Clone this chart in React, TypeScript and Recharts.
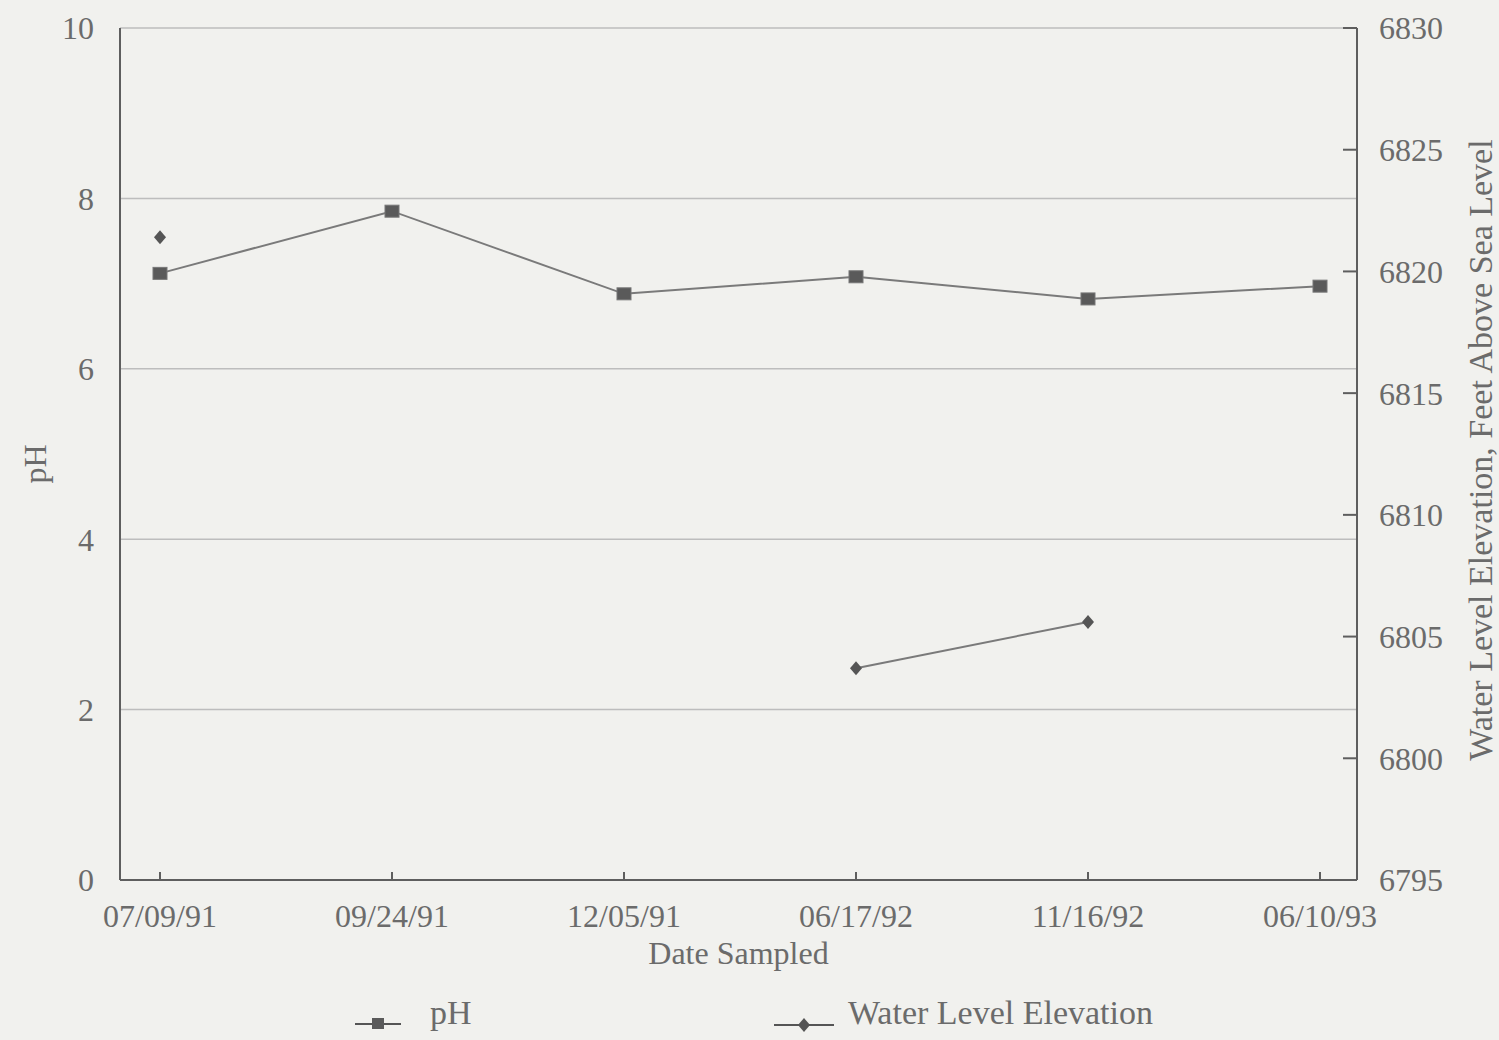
import React from 'react';
import { LineChart, Line, XAxis, YAxis, CartesianGrid, Legend } from 'recharts';

const dates = ['07/09/91', '09/24/91', '12/05/91', '06/17/92', '11/16/92', '06/10/93'];
const phValues = [7.12, 7.85, 6.88, 7.08, 6.82, 6.97];
const waterLevel: (number | null)[] = [6821.4, null, null, 6803.7, 6805.6, null];
const phTicks = [0, 2, 4, 6, 8, 10];
const elevTicks = [6795, 6800, 6805, 6810, 6815, 6820, 6825, 6830];

const data = dates.map((d, i) => ({ date: d, ph: phValues[i], water: waterLevel[i] }));

const TEXT = '#6b6b6b';
const FONT = '"Liberation Serif", "DejaVu Serif", serif';

const SquareDot = (props: any) => {
  const { cx, cy } = props;
  if (cx == null || cy == null) return null;
  return <rect x={cx - 7} y={cy - 6} width={14} height={12} fill="#5a5a5a" stroke="#777" strokeWidth={1} />;
};

const DiamondDot = (props: any) => {
  const { cx, cy, value } = props;
  if (cx == null || cy == null || value == null) return null;
  return <path d={`M${cx},${cy - 7}L${cx + 6},${cy}L${cx},${cy + 7}L${cx - 6},${cy}Z`} fill="#555" />;
};

const LeftTitle = (props: any) => {
  const { viewBox } = props;
  const x = 35;
  const y = viewBox.y + viewBox.height / 2 + 10;
  return (
    <text x={x} y={y} transform={`rotate(-90 ${x} ${y})`} textAnchor="middle" dominantBaseline="central"
      fill={TEXT} fontSize={32} fontFamily={FONT}>pH</text>
  );
};

const RightTitle = (props: any) => {
  const { viewBox } = props;
  const x = 1480;
  const y = viewBox.y + viewBox.height / 2 - 4;
  return (
    <text x={x} y={y} transform={`rotate(-90 ${x} ${y})`} textAnchor="middle" dominantBaseline="central"
      fill={TEXT} fontSize={34} fontFamily={FONT}>Water Level Elevation, Feet Above Sea Level</text>
  );
};

const LegendContent = () => (
  <div style={{ position: 'relative', width: 1499, height: 70, fontFamily: FONT, color: TEXT, fontSize: 34 }}>
    <svg style={{ position: 'absolute', left: 355, top: 44 }} width={48} height={16}>
      <line x1={0} y1={10} x2={46} y2={10} stroke="#555" strokeWidth={2} />
      <rect x={17} y={4} width={12} height={11} fill="#5a5a5a" />
    </svg>
    <span style={{ position: 'absolute', left: 430, top: 24 }}>pH</span>
    <svg style={{ position: 'absolute', left: 774, top: 44 }} width={62} height={18}>
      <line x1={0} y1={11} x2={60} y2={11} stroke="#555" strokeWidth={2} />
      <path d="M30,4L36,11L30,18L24,11Z" fill="#555" />
    </svg>
    <span style={{ position: 'absolute', left: 848, top: 24 }}>Water Level Elevation</span>
  </div>
);

export default function App() {
  return (
    <div style={{ position: 'absolute', left: 0, top: 0, width: 1499, height: 1040, background: '#f1f1ee' }}>
      <LineChart width={1499} height={1040} data={data} margin={{ top: 28, right: 0, left: 0, bottom: 0 }}>
        <CartesianGrid vertical={false} stroke="#bdbdbd" strokeWidth={1.5} yAxisId="ph" />
        <XAxis
          dataKey="date"
          xAxisId="main"
          height={90}
          padding={{ left: 40, right: 37 }}
          stroke="#5e5e5e"
          strokeWidth={2}
          tickSize={8}
          tickLine={{ transform: 'translate(0,-8)' }}
          tickMargin={16}
          tick={{ fill: TEXT, fontSize: 32, fontFamily: FONT }}
          label={{ value: 'Date Sampled', position: 'insideBottom', offset: 6, fill: TEXT, fontSize: 32, fontFamily: FONT }}
        />
        <XAxis dataKey="date" xAxisId="top" orientation="top" height={0} tick={false} tickLine={false}
          stroke="#5e5e5e" strokeWidth={2} />
        <YAxis
          yAxisId="ph"
          width={120}
          domain={[0, 10]}
          ticks={phTicks}
          interval={0}
          stroke="#5e5e5e"
          strokeWidth={2}
          tickLine={false}
          tickMargin={20}
          tick={{ fill: TEXT, fontSize: 32, fontFamily: FONT }}
          label={<LeftTitle />}
        />
        <YAxis
          yAxisId="elev"
          orientation="right"
          width={142}
          domain={[6795, 6830]}
          ticks={elevTicks}
          interval={0}
          stroke="#5e5e5e"
          strokeWidth={2}
          tickSize={14}
          tickLine={{ transform: 'translate(-14,0)' }}
          tickMargin={8}
          tick={{ fill: TEXT, fontSize: 32, fontFamily: FONT }}
          label={<RightTitle />}
        />
        <Legend verticalAlign="bottom" height={70} wrapperStyle={{ left: 0, bottom: 0, width: 1499, height: 70 }}
          content={<LegendContent />} />
        <Line
          xAxisId="main"
          yAxisId="ph"
          dataKey="ph"
          name="pH"
          stroke="#7a7a7a"
          strokeWidth={2}
          dot={<SquareDot />}
          isAnimationActive={false}
        />
        <Line
          xAxisId="main"
          yAxisId="elev"
          dataKey="water"
          name="Water Level Elevation"
          stroke="#7a7a7a"
          strokeWidth={2}
          connectNulls={false}
          dot={<DiamondDot />}
          isAnimationActive={false}
        />
      </LineChart>
    </div>
  );
}
